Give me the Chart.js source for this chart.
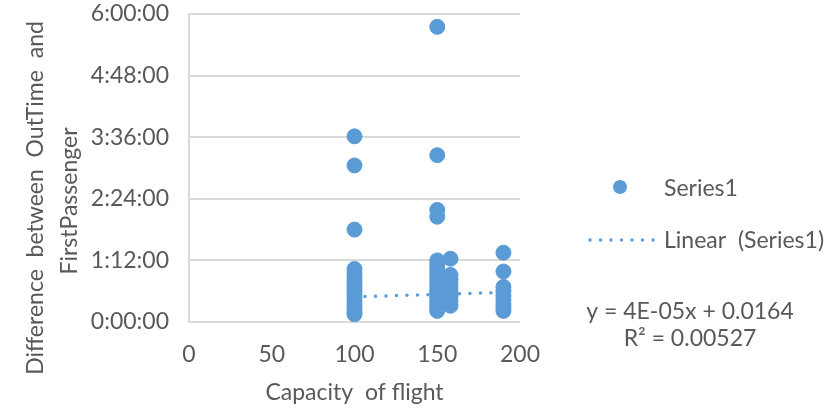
<!DOCTYPE html>
<html>
<head>
<meta charset="utf-8">
<script src="https://cdn.jsdelivr.net/npm/chart.js@4"></script>
<style>
  html, body { margin: 0; padding: 0; background: #fff; }
  #wrap { width: 831px; height: 412px; position: relative; }
</style>
</head>
<body>
<div id="wrap"><canvas id="scatterChart" width="831" height="412"></canvas></div>
<script>
// capacities (x) and the minutes between OutTime and FirstPassenger (y)
const capacities = [100, 150, 158, 190];
const minutesAt100 = [217, 183, 108, 62, 57, 52, 48, 44, 40, 36, 32, 28, 24, 20, 16, 12, 9];
const minutesAt150 = [345, 195, 131, 123, 72, 67, 62, 57, 52, 47, 42, 37, 33, 29, 25, 21, 17, 13];
const minutesAt158 = [74, 55, 50, 45, 40, 35, 30, 25, 19];
const minutesAt190 = [81, 59, 41, 36, 31, 26, 21, 17, 13];

// trendline shown by Excel: y = 4E-05x + 0.0164 (in days)
const trendSlope = 4e-5;
const trendIntercept = 0.0164;
const trendX = [100, 190];

const yTicks = [0, 72, 144, 216, 288, 360];
const xTicks = [0, 50, 100, 150, 200];

const blue = "#5b9bd5";
const textColor = "#595959";
const fontFamily = "Lato, 'Open Sans', sans-serif";
const fontSize = 23;

const seriesValues = [minutesAt100, minutesAt150, minutesAt158, minutesAt190];
const points = [];
seriesValues.forEach((vals, i) => {
  vals.forEach((v) => points.push({ x: capacities[i], y: v }));
});
const trendPoints = trendX.map((x) => ({ x: x, y: (trendSlope * x + trendIntercept) * 1440 }));

const fmtTime = (m) => {
  const h = Math.floor(m / 60);
  const mm = String(Math.round(m % 60)).padStart(2, "0");
  return h + ":" + mm + ":00";
};

// y title (two lines, not centred on the plot like Chart.js does), legend and equation
const sideText = {
  id: "sideText",
  afterDraw(chart) {
    const ctx = chart.ctx;
    ctx.save();
    ctx.fillStyle = textColor;
    ctx.font = fontSize + "px " + fontFamily;
    ctx.textAlign = "center";
    ctx.textBaseline = "middle";
    ctx.translate(0, 198);
    ctx.rotate(-Math.PI / 2);
    ctx.fillText("Difference  between  OutTime  and", 0, 36);
    ctx.fillText("FirstPassenger", -3, 70);
    ctx.restore();

    ctx.save();
    ctx.fillStyle = blue;
    ctx.beginPath();
    ctx.arc(620, 187, 7, 0, Math.PI * 2);
    ctx.fill();

    ctx.strokeStyle = blue;
    ctx.lineWidth = 3.5;
    ctx.lineCap = "round";
    ctx.setLineDash([0, 10.5]);
    ctx.beginPath();
    ctx.moveTo(590, 240);
    ctx.lineTo(656, 240);
    ctx.stroke();
    ctx.setLineDash([]);

    ctx.fillStyle = textColor;
    ctx.font = fontSize + "px " + fontFamily;
    ctx.textBaseline = "middle";
    ctx.textAlign = "left";
    ctx.fillText("Series1", 664, 189);
    ctx.fillText("Linear  (Series1)", 664, 241);
    ctx.textAlign = "center";
    ctx.fillText("y = 4E-05x + 0.0164", 690, 312);
    ctx.fillText("R² = 0.00527", 690, 339);
    ctx.restore();
  },
};

new Chart(document.getElementById("scatterChart"), {
  type: "scatter",
  data: {
    datasets: [
      {
        label: "Series1",
        data: points,
        backgroundColor: blue,
        borderColor: blue,
        pointRadius: 7.5,
        pointHoverRadius: 7.5,
      },
      {
        type: "line",
        label: "Linear (Series1)",
        data: trendPoints,
        borderColor: blue,
        borderWidth: 3.5,
        borderDash: [0, 10.5],
        borderCapStyle: "round",
        pointRadius: 0,
        fill: false,
      },
    ],
  },
  plugins: [sideText],
  options: {
    responsive: false,
    animation: false,
    layout: { padding: { top: 14, right: 311, bottom: 0, left: 0 } },
    plugins: { legend: { display: false }, tooltip: { enabled: false } },
    scales: {
      x: {
        type: "linear",
        min: 0,
        max: 200,
        afterBuildTicks: (scale) => { scale.ticks = xTicks.map((v) => ({ value: v })); },
        grid: { display: false, drawTicks: false },
        border: { display: false },
        ticks: { color: textColor, font: { family: fontFamily, size: fontSize }, padding: 19 },
        title: {
          display: true,
          text: "Capacity  of flight",
          color: textColor,
          font: { family: fontFamily, size: fontSize },
          padding: { top: 4, bottom: 6 },
        },
        afterFit: (scale) => {
          scale.height = 90;
          scale.paddingLeft = 0;
          scale.paddingRight = 0;
        },
      },
      y: {
        min: 0,
        max: 360,
        afterBuildTicks: (scale) => { scale.ticks = yTicks.map((v) => ({ value: v })); },
        grid: { color: "#d9d9d9", lineWidth: 2, drawTicks: false },
        border: { display: true, color: "#d9d9d9", width: 2 },
        ticks: { color: textColor, font: { family: fontFamily, size: fontSize }, padding: 20, callback: (v) => fmtTime(v) },
        afterFit: (scale) => {
          scale.width = 189;
          scale.paddingTop = 0;
          scale.paddingBottom = 0;
        },
      },
    },
  },
});
</script>
</body>
</html>
